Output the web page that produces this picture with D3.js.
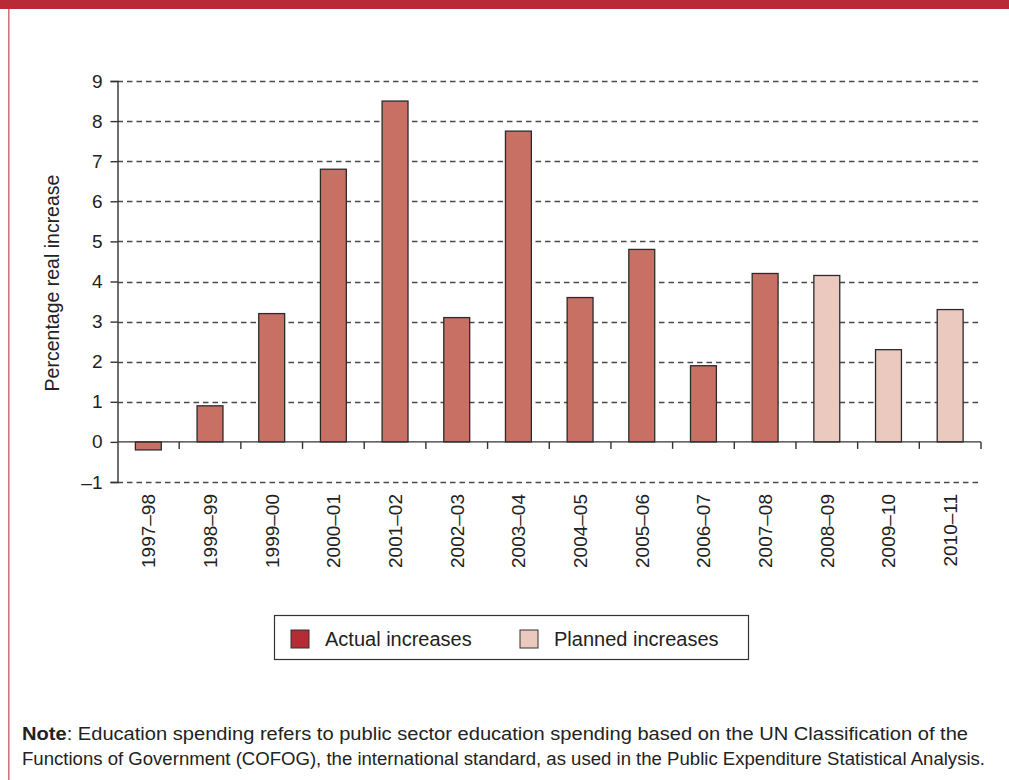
<!DOCTYPE html>
<html>
<head>
<meta charset="utf-8">
<script src="https://cdn.jsdelivr.net/npm/d3@7"></script>
<style>
  html, body { margin: 0; padding: 0; background: #fff; }
  svg { display: block; font-family: "Liberation Sans", Arial, Helvetica, sans-serif; }
</style>
</head>
<body>
<svg id="chart" width="1009" height="780"></svg>
<script>
// Real increase in education spending, by financial year
const years = ["1997–98", "1998–99", "1999–00", "2000–01", "2001–02", "2002–03", "2003–04",
               "2004–05", "2005–06", "2006–07", "2007–08", "2008–09", "2009–10", "2010–11"];
const increases = [-0.2, 0.9, 3.2, 6.8, 8.5, 3.1, 7.75, 3.6, 4.8, 1.9, 4.2, 4.15, 2.3, 3.3];
const kinds = ["actual", "actual", "actual", "actual", "actual", "actual", "actual",
               "actual", "actual", "actual", "actual", "planned", "planned", "planned"];
const yTicks = [-1, 0, 1, 2, 3, 4, 5, 6, 7, 8, 9];
const legendItems = [
  { key: "actual", label: "Actual increases" },
  { key: "planned", label: "Planned increases" }
];

const barFill = { actual: "#c97064", planned: "#ecc9bf" };
const swatchFill = { actual: "#b52b36", planned: "#ecc9bf" };

const svg = d3.select("#chart");

// Page frame: red band along the top, thin rule down the left edge
svg.append("rect").attr("x", 0).attr("y", 0).attr("width", 1009).attr("height", 9).attr("fill", "#b72a36");
svg.append("rect").attr("x", 8).attr("y", 9).attr("width", 1.6).attr("height", 771).attr("fill", "#d5737a");

const plot = { left: 117.5, right: 981, top: 81, bottom: 482 };

const x = d3.scaleBand().domain(years).range([plot.left, plot.right]).paddingInner(0.58).paddingOuter(0.29);
const y = d3.scaleLinear().domain([-1, 9]).range([plot.bottom, plot.top]);

// Dashed gridlines
svg.append("g")
  .selectAll("line")
  .data(yTicks.filter(t => t !== 0))
  .join("line")
  .attr("x1", plot.left).attr("x2", plot.right)
  .attr("y1", d => Math.round(y(d)) + 0.5).attr("y2", d => Math.round(y(d)) + 0.5)
  .attr("stroke", "#4a4a4a").attr("stroke-width", 1.6).attr("stroke-dasharray", "5.5,4");

// Bars
svg.append("g")
  .selectAll("rect")
  .data(years.map((yr, i) => ({ yr, v: increases[i], k: kinds[i] })))
  .join("rect")
  .attr("x", d => x(d.yr))
  .attr("width", x.bandwidth())
  .attr("y", d => y(Math.max(0, d.v)))
  .attr("height", d => Math.abs(y(d.v) - y(0)))
  .attr("fill", d => barFill[d.k])
  .attr("stroke", "#2b2b2b").attr("stroke-width", 1.3);

// Y axis
const yAxis = svg.append("g")
  .attr("transform", `translate(${plot.left},0)`)
  .call(d3.axisLeft(y).tickValues(yTicks).tickSize(7).tickPadding(8)
    .tickFormat(d => d < 0 ? "–" + Math.abs(d) : d));
yAxis.select(".domain").attr("stroke", "#333").attr("stroke-width", 1.4);
yAxis.selectAll(".tick line").attr("stroke", "#333").attr("stroke-width", 1.4);
yAxis.selectAll(".tick text").attr("fill", "#222").style("font-size", "19px");

// Zero baseline with ticks at category boundaries
const zeroY = y(0);
svg.append("line").attr("x1", plot.left).attr("x2", plot.right).attr("y1", zeroY).attr("y2", zeroY)
  .attr("stroke", "#333").attr("stroke-width", 1.4);
const step = x.step();
const firstEdge = x(years[0]) - step * x.paddingOuter();
svg.append("g").selectAll("line")
  .data(d3.range(1, years.length + 1))
  .join("line")
  .attr("x1", i => firstEdge + i * step)
  .attr("x2", i => firstEdge + i * step)
  .attr("y1", zeroY).attr("y2", zeroY + 7)
  .attr("stroke", "#333").attr("stroke-width", 1.4);

// Category labels, rotated
svg.append("g").selectAll("text")
  .data(years)
  .join("text")
  .attr("transform", d => `translate(${x(d) + x.bandwidth() / 2 + 7},494) rotate(-90)`)
  .attr("text-anchor", "end")
  .attr("fill", "#222")
  .style("font-size", "19px")
  .text(d => d);

// Y axis title
svg.append("text")
  .attr("transform", "translate(59,283) rotate(-90)")
  .attr("text-anchor", "middle")
  .attr("fill", "#222")
  .style("font-size", "19.5px")
  .text("Percentage real increase");

// Legend
const legend = svg.append("g");
legend.append("rect").attr("x", 274.5).attr("y", 615.5).attr("width", 474).attr("height", 44)
  .attr("fill", "#fff").attr("stroke", "#333").attr("stroke-width", 1.2);
const legendX = [291, 520];
legendItems.forEach((it, i) => {
  legend.append("rect").attr("x", legendX[i]).attr("y", 630).attr("width", 18).attr("height", 18)
    .attr("fill", swatchFill[it.key]).attr("stroke", "#333").attr("stroke-width", 1);
  legend.append("text").attr("x", legendX[i] + 34).attr("y", 646)
    .attr("fill", "#222").style("font-size", "20px").text(it.label);
});

// Note beneath the chart
const note = svg.append("g").attr("fill", "#222").style("font-size", "17.5px");
const l1 = note.append("text").attr("x", 22).attr("y", 740)
  .attr("textLength", 946).attr("lengthAdjust", "spacingAndGlyphs");
l1.append("tspan").attr("font-weight", "bold").text("Note");
l1.append("tspan").text(":  Education spending refers to public sector education spending based on the UN Classification of the");
note.append("text").attr("x", 22).attr("y", 765)
  .attr("textLength", 963).attr("lengthAdjust", "spacingAndGlyphs")
  .text("Functions of Government (COFOG), the international standard, as used in the Public Expenditure Statistical Analysis.");
</script>
</body>
</html>
